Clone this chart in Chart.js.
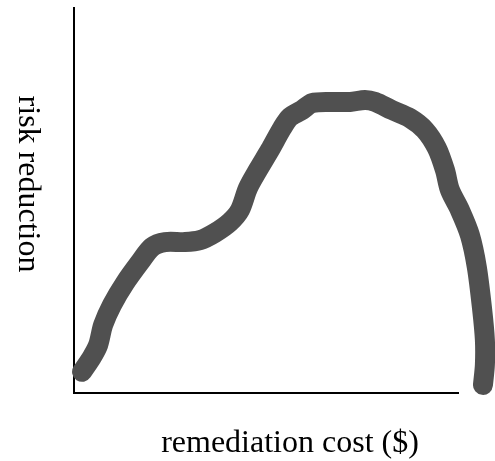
<!DOCTYPE html>
<html>
<head>
<meta charset="utf-8">
<style>
  html, body { margin: 0; padding: 0; background: #fff; }
  #wrap { width: 495px; height: 461px; }
</style>
<script src="https://cdn.jsdelivr.net/npm/chart.js@4/dist/chart.umd.min.js"></script>
</head>
<body>
<div id="wrap"><canvas id="chart" width="495" height="461"></canvas></div>
<script>
'use strict';

// hand drawn curve (x: cost, y: risk reduction, 0-100 scale)
const costs = [2.1, 4.7, 6.3, 7.6, 9.9, 13.3, 17.2, 20.3, 23.7, 28.9, 32.8, 36.7, 40.6, 43.2, 45.3, 47.9,
  51.0, 54.2, 56.3, 59.4, 62.0, 66.7, 71.9, 75.8, 78.4, 82.8, 87.5, 91.4, 94.5, 96.6, 97.9, 100.5,
  103.1, 104.9, 106.3, 107.0, 107.0, 106.5];
const reduction = [5.5, 9.4, 12.5, 17.7, 22.9, 28.6, 34.0, 37.9, 39.2, 39.2, 39.7, 41.6, 44.4, 47.5, 53.2, 57.9,
  63.1, 68.8, 71.7, 73.5, 75.3, 75.6, 75.6, 76.1, 75.6, 73.5, 71.4, 68.3, 63.6, 57.9, 52.7, 47.5,
  41.0, 32.7, 21.6, 13.8, 7.3, 2.1];
const xTitle = 'remediation cost ($)';
const yTitle = 'risk reduction';

const font = '"Liberation Serif", "DejaVu Serif", serif';

// y title reads top to bottom, so draw it ourselves
const axisTitles = {
  id: 'axisTitles',
  afterDraw(chart) {
    const c = chart.ctx;
    const a = chart.chartArea;
    c.save();
    c.fillStyle = '#000';
    c.font = '32px ' + font;
    c.textAlign = 'center';
    c.textBaseline = 'alphabetic';
    c.fillText(xTitle, (a.left + a.right) / 2 + 24, 452);
    c.translate(19, 184);
    c.rotate(Math.PI / 2);
    c.fillText(yTitle, 0, 0);
    c.restore();
  }
};

const pts = costs.map((x, i) => ({x: x, y: reduction[i]}));

new Chart(document.getElementById('chart').getContext('2d'), {
  type: 'line',
  data: {
    datasets: [{
      data: pts,
      borderColor: '#505050',
      borderWidth: 20,
      borderCapStyle: 'round',
      borderJoinStyle: 'round',
      tension: 0.3,
      pointRadius: 0,
      clip: false
    }]
  },
  options: {
    responsive: false,
    animation: false,
    layout: {padding: {left: 74, right: 37, top: 8, bottom: 68}},
    plugins: {legend: {display: false}, tooltip: {enabled: false}},
    scales: {
      x: {
        type: 'linear', min: 0, max: 100,
        ticks: {display: false},
        grid: {display: false, drawTicks: false},
        border: {display: true, color: '#000', width: 2}
      },
      y: {
        min: 0, max: 100,
        ticks: {display: false},
        grid: {display: false, drawTicks: false},
        border: {display: true, color: '#000', width: 2}
      }
    }
  },
  plugins: [axisTitles]
});
</script>
</body>
</html>
